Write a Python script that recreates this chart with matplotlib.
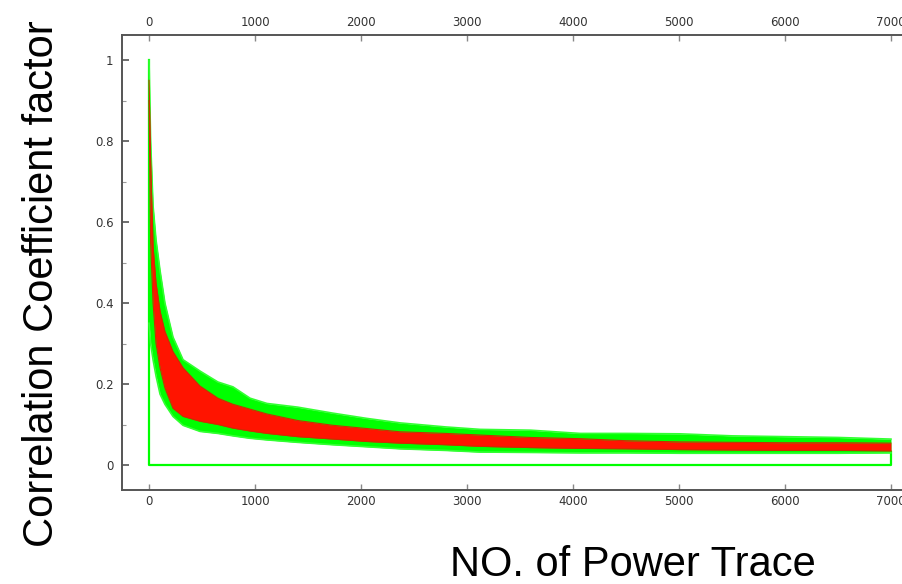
import matplotlib
matplotlib.use("Agg")
import matplotlib.pyplot as plt
from matplotlib.ticker import MultipleLocator

# Number of power traces at which the envelopes are sampled
trace_counts = [0, 15, 38, 66, 104, 150, 226, 321, 481, 650, 792, 953, 1113,
                1400, 1736, 2057, 2368, 2800, 3123, 3600, 4066, 4500, 5009,
                5500, 6000, 6500, 7000]

# Envelope of the wrong-key-guess correlation curves (green)
wrong_hi = [1.00, 0.80, 0.64, 0.556, 0.48, 0.40, 0.316, 0.26, 0.232, 0.205,
            0.193, 0.165, 0.152, 0.143, 0.128, 0.115, 0.104, 0.094, 0.088,
            0.086, 0.078, 0.078, 0.077, 0.072, 0.070, 0.068, 0.064]
wrong_lo = [0.35, 0.30, 0.26, 0.22, 0.175, 0.15, 0.12, 0.098, 0.083, 0.078,
            0.072, 0.066, 0.062, 0.056, 0.050, 0.045, 0.040, 0.036, 0.032,
            0.031, 0.030, 0.030, 0.029, 0.029, 0.029, 0.029, 0.030]

# Envelope of the correct-key correlation curves (red)
right_hi = [0.95, 0.75, 0.54, 0.45, 0.38, 0.33, 0.28, 0.24, 0.195, 0.165,
            0.150, 0.138, 0.126, 0.110, 0.098, 0.090, 0.082, 0.078, 0.074,
            0.068, 0.065, 0.060, 0.057, 0.056, 0.055, 0.055, 0.054]
right_lo = [0.90, 0.55, 0.40, 0.30, 0.24, 0.19, 0.14, 0.12, 0.108, 0.10,
            0.091, 0.084, 0.078, 0.070, 0.064, 0.058, 0.054, 0.050, 0.046,
            0.043, 0.041, 0.040, 0.038, 0.037, 0.036, 0.036, 0.035]

# Baseline frame drawn by the plotting tool
frame_x = [0, 0, 7000, 7000]
frame_y = [1.0, 0.0, 0.0, 0.032]

x_ticks = [0, 1000, 2000, 3000, 4000, 5000, 6000, 7000]
y_ticks = [0, 0.2, 0.4, 0.6, 0.8, 1]
y_tick_labels = ["0", "0.2", "0.4", "0.6", "0.8", "1"]

GREEN = "#00ff00"
RED = "#ff1400"
DARK_RED = "#c83000"
AXIS = "#555555"

fig = plt.figure(figsize=(9.02, 5.84), dpi=100)
left_px, top_px, bottom_px = 122, 35, 489.5
right_px = 918
ax = fig.add_axes([left_px / 902, (584 - bottom_px) / 584,
                   (right_px - left_px) / 902, (bottom_px - top_px) / 584])

ax.set_xlim(-255, 7255)
ax.set_ylim(-0.0605, 1.062)

ax.plot(frame_x, frame_y, color=GREEN, lw=1.6, zorder=2)
ax.fill_between(trace_counts, wrong_lo, wrong_hi, color=GREEN, lw=0, zorder=3)
ax.plot(trace_counts, wrong_hi, color="#33ff33", lw=1.2, zorder=3)
ax.plot(trace_counts, wrong_lo, color="#33ff33", lw=1.2, zorder=3)
ax.fill_between(trace_counts, right_lo, right_hi, color=RED, lw=0, zorder=4)
ax.plot(trace_counts, right_hi, color=DARK_RED, lw=0.8, zorder=5)
ax.plot(trace_counts, right_lo, color=DARK_RED, lw=0.8, zorder=5)

for side in ("left", "top", "bottom"):
    ax.spines[side].set_color(AXIS)
    ax.spines[side].set_linewidth(1.4)
ax.spines["right"].set_visible(False)

tick_font = dict(family="Liberation Sans Narrow", size=8.5, color="#333333")
ax.set_xticks(x_ticks)
ax.set_xticklabels([str(v) for v in x_ticks], fontdict=tick_font)
ax.set_yticks(y_ticks)
ax.set_yticklabels(y_tick_labels, fontdict=tick_font)
ax.yaxis.set_minor_locator(MultipleLocator(0.1))
ax.tick_params(axis="x", which="both", direction="in", top=True, bottom=True,
               labeltop=True, labelbottom=True, length=4, width=1,
               color="#888888", pad=4)
ax.tick_params(axis="y", which="major", direction="in", length=5, width=1.2,
               color="#555555", pad=6)
ax.tick_params(axis="y", which="minor", direction="in", length=3, width=0.8,
               color="#999999")

label_font = dict(family="Liberation Sans", size=30, color="black")
fig.text(42 / 902, 1 - 284 / 584, "Correlation Coefficient factor",
         rotation=90, ha="center", va="center", **label_font)
fig.text(633 / 902, 1 - 565 / 584, "NO. of Power Trace",
         ha="center", va="center", **label_font)

fig.savefig("out.png", dpi=100)
